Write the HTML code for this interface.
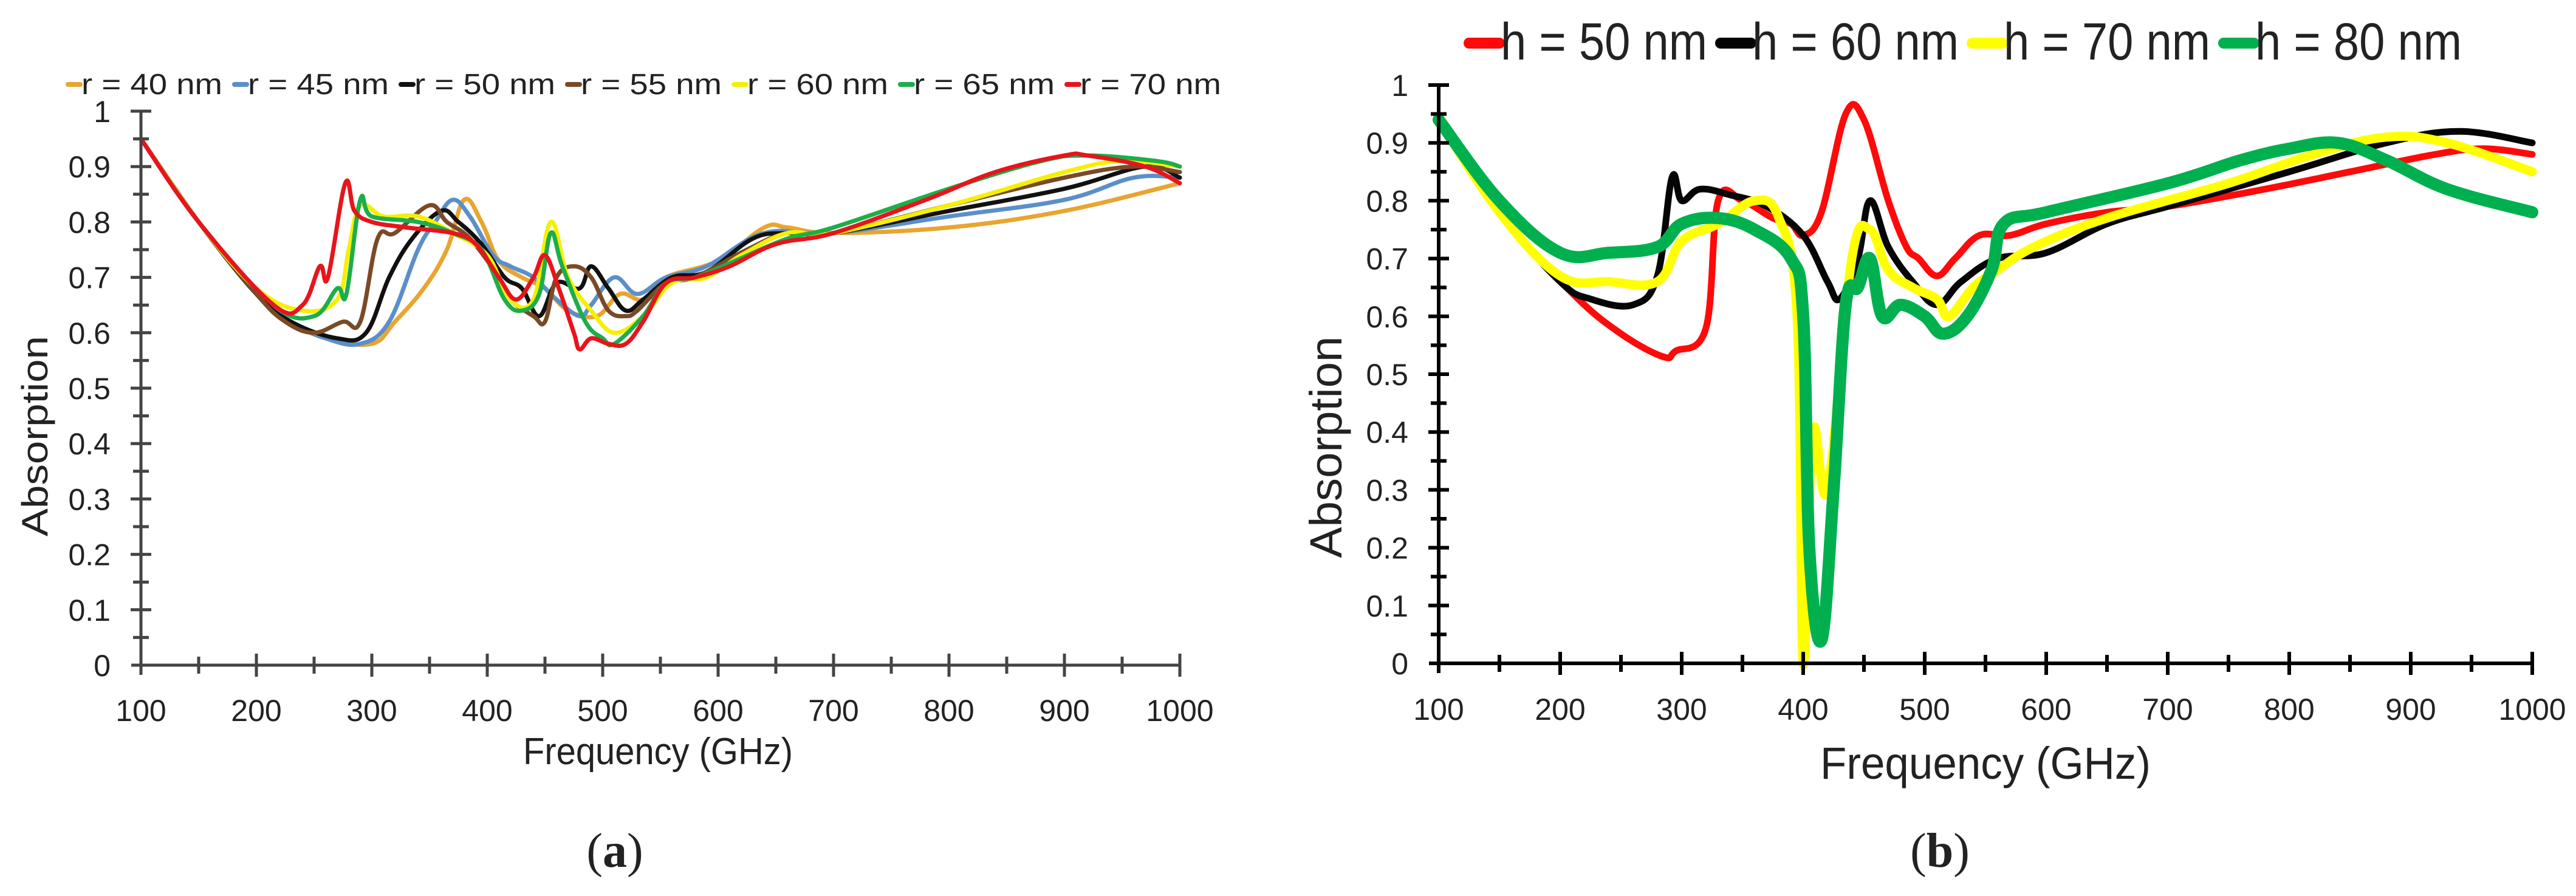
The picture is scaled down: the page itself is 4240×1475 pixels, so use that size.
<!DOCTYPE html>
<html><head><meta charset="utf-8"><style>
html,body{margin:0;padding:0;background:#fff;}
svg{display:block;}
text{font-family:"Liberation Sans Narrow","Liberation Sans",sans-serif;fill:#222;}
</style></head><body>
<svg id="fig" width="4240" height="1475" viewBox="0 0 4240 1475" xmlns="http://www.w3.org/2000/svg">
<rect width="4240" height="1475" fill="#fff"/>
<g id="pa"></g>
<g id="pb"></g>
<text x="1012" y="1427" text-anchor="middle" font-size="80" style="font-family:'Liberation Serif',serif">(<tspan font-weight="bold">a</tspan>)</text>
<text x="3193" y="1427" text-anchor="middle" font-size="80" style="font-family:'Liberation Serif',serif">(<tspan font-weight="bold">b</tspan>)</text>
</svg>
<script>
// ---- Panel A data ----
const aNames = ["r = 40 nm","r = 45 nm","r = 50 nm","r = 55 nm","r = 60 nm","r = 65 nm","r = 70 nm"];
const aColors = ["#e8a530","#5b8fc9","#111111","#7a4a26","#f5f000","#1cae4a","#e8141c"];
const a40 = [[100,0.95],[150,0.80],[200,0.67],[230,0.62],[260,0.59],[300,0.58],[320,0.62],[345,0.68],[365,0.75],[380,0.84],[395,0.80],[410,0.73],[430,0.70],[450,0.68],[470,0.64],[495,0.63],[515,0.67],[535,0.66],[555,0.70],[600,0.73],[640,0.79],[660,0.79],[700,0.78],[800,0.79],[900,0.82],[1000,0.87]];
const a45 = [[100,0.95],[150,0.80],[200,0.67],[230,0.62],[260,0.59],[290,0.58],[315,0.62],[340,0.75],[355,0.80],[370,0.84],[385,0.81],[405,0.74],[420,0.72],[440,0.70],[460,0.66],[480,0.63],[490,0.65],[510,0.70],[530,0.67],[555,0.70],[590,0.72],[640,0.78],[700,0.78],[800,0.81],[900,0.84],[960,0.88],[1000,0.88]];
const a50 = [[100,0.95],[150,0.80],[200,0.67],[230,0.62],[270,0.59],[295,0.60],[315,0.70],[335,0.77],[360,0.82],[375,0.80],[395,0.76],[415,0.70],[430,0.68],[445,0.63],[460,0.69],[480,0.68],[490,0.72],[505,0.68],[520,0.64],[535,0.66],[560,0.70],[590,0.71],[630,0.77],[660,0.78],[700,0.78],[800,0.82],[900,0.86],[970,0.90],[1000,0.88]];
const a55 = [[100,0.95],[150,0.80],[200,0.67],[225,0.62],[250,0.60],[275,0.62],[290,0.62],[305,0.77],[320,0.78],[350,0.83],[365,0.80],[385,0.77],[410,0.70],[420,0.66],[440,0.63],[450,0.62],[460,0.70],[475,0.72],[490,0.70],[505,0.64],[520,0.63],[530,0.64],[555,0.69],[580,0.70],[625,0.75],[660,0.78],[700,0.78],[800,0.83],[900,0.88],[960,0.90],[1000,0.89]];
const a60 = [[100,0.95],[150,0.80],[200,0.68],[240,0.64],[270,0.66],[280,0.75],[290,0.83],[310,0.81],[340,0.81],[370,0.78],[400,0.74],[420,0.66],[440,0.66],[455,0.80],[470,0.70],[490,0.64],[510,0.60],[535,0.63],[560,0.69],[590,0.70],[620,0.74],[660,0.78],[700,0.78],[800,0.83],[900,0.89],[950,0.91],[1000,0.90]];
const a65 = [[100,0.95],[150,0.80],[215,0.65],[250,0.63],[270,0.68],[278,0.67],[290,0.84],[300,0.81],[340,0.80],[370,0.78],[395,0.75],[415,0.66],[430,0.64],[445,0.67],[455,0.78],[465,0.72],[485,0.62],[500,0.59],[510,0.58],[535,0.63],[555,0.69],[580,0.70],[615,0.73],[660,0.77],[700,0.79],[800,0.86],[880,0.91],[920,0.92],[980,0.91],[1000,0.90]];
const a70 = [[100,0.95],[150,0.80],[215,0.65],[240,0.65],[255,0.72],[262,0.70],[277,0.87],[285,0.82],[300,0.80],[330,0.79],[370,0.78],[390,0.76],[410,0.70],[425,0.66],[440,0.70],[450,0.74],[462,0.68],[475,0.60],[480,0.57],[490,0.59],[505,0.58],[520,0.58],[535,0.62],[555,0.69],[580,0.70],[610,0.72],[650,0.76],[700,0.78],[780,0.84],[840,0.89],[900,0.92],[920,0.92],[970,0.90],[1000,0.87]];
const aSeries = [a40,a45,a50,a55,a60,a65,a70];
const xTicks = ["100","200","300","400","500","600","700","800","900","1000"];
const yTicks = ["0","0.1","0.2","0.3","0.4","0.5","0.6","0.7","0.8","0.9","1"];
// ---- Panel B data ----
const bNames = ["h = 50 nm","h = 60 nm","h = 70 nm","h = 80 nm"];
const bColors = ["#ff0a0a","#050505","#ffff00","#00b04f"];
const b50 = [[100,0.94],[150,0.78],[210,0.64],[250,0.57],[285,0.53],[295,0.54],[320,0.58],[330,0.80],[350,0.80],[375,0.77],[390,0.76],[400,0.74],[415,0.78],[435,0.95],[450,0.94],[470,0.80],[485,0.72],[495,0.70],[510,0.67],[525,0.70],[545,0.74],[570,0.74],[600,0.76],[650,0.78],[700,0.79],[780,0.82],[850,0.85],[920,0.88],[960,0.89],[1000,0.88]];
const b60 = [[100,0.94],[150,0.78],[200,0.66],[225,0.63],[260,0.62],[280,0.67],[292,0.84],[300,0.80],[315,0.82],[340,0.81],[370,0.79],[400,0.74],[420,0.66],[430,0.63],[445,0.70],[455,0.80],[470,0.72],[490,0.66],[510,0.62],[530,0.66],[560,0.70],[600,0.71],[650,0.76],[700,0.79],[800,0.85],[880,0.90],[940,0.92],[1000,0.90]];
const b70 = [[100,0.94],[150,0.78],[200,0.67],[240,0.66],[280,0.66],[300,0.73],[330,0.76],[360,0.80],[380,0.77],[395,0.60],[400,0.0],[408,0.40],[420,0.30],[440,0.70],[455,0.75],[470,0.68],[490,0.65],[510,0.63],[520,0.60],[540,0.65],[560,0.68],[590,0.72],[650,0.77],[750,0.83],[820,0.88],[880,0.91],[930,0.90],[1000,0.85]];
const b80 = [[100,0.94],[150,0.80],[200,0.71],[240,0.71],[280,0.72],[300,0.76],[330,0.77],[360,0.75],[390,0.70],[400,0.60],[405,0.20],[415,0.04],[425,0.30],[435,0.62],[445,0.65],[455,0.70],[465,0.60],[480,0.62],[500,0.60],[515,0.57],[535,0.60],[555,0.68],[565,0.76],[600,0.78],[700,0.83],[760,0.87],[800,0.89],[840,0.90],[880,0.87],[930,0.82],[1000,0.78]];
const bSeries = [b50,b60,b70,b80];
const bWidths = [11,11,15,20];

const NS="http://www.w3.org/2000/svg";
function mk(parent,tag,attrs){const e=document.createElementNS(NS,tag);for(const k in attrs)e.setAttribute(k,attrs[k]);parent.appendChild(e);return e;}
function smoothPath(pts){
  let d="M"+pts[0][0].toFixed(1)+","+pts[0][1].toFixed(1);
  for(let i=0;i<pts.length-1;i++){
    const p0=pts[Math.max(0,i-1)],p1=pts[i],p2=pts[i+1],p3=pts[Math.min(pts.length-1,i+2)];
    const t=0.18;
    const c1=[p1[0]+(p2[0]-p0[0])*t,p1[1]+(p2[1]-p0[1])*t];
    const c2=[p2[0]-(p3[0]-p1[0])*t,p2[1]-(p3[1]-p1[1])*t];
    d+=" C"+c1[0].toFixed(1)+","+c1[1].toFixed(1)+" "+c2[0].toFixed(1)+","+c2[1].toFixed(1)+" "+p2[0].toFixed(1)+","+p2[1].toFixed(1);
  }
  return d;
}

function panel(g,cfg){
  const sx=f=>cfg.x0+(f-100)/900*(cfg.x1-cfg.x0);
  const sy=v=>cfg.y0-v*(cfg.y0-cfg.y1);
  cfg.series.forEach((s,i)=>{
    const pts=s.map(p=>[sx(p[0]),sy(p[1])]);
    const p=mk(g,"path",{d:smoothPath(pts),fill:"none",stroke:cfg.colors[i],"stroke-width":cfg.widths[i],"stroke-linejoin":"round","stroke-linecap":"round"});
    
    
  });
  const ax=mk(g,"line",{x1:cfg.x0,y1:cfg.y1,x2:cfg.x0,y2:cfg.y0+16,stroke:cfg.axc,"stroke-width":cfg.aw});
  
  
  const xa=mk(g,"line",{x1:cfg.x0-16,y1:cfg.y0,x2:cfg.x1,y2:cfg.y0,stroke:cfg.axc,"stroke-width":cfg.aw});
  
  
  for(let k=1;k<=20;k++){
    const y=cfg.y0-k/20*(cfg.y0-cfg.y1); const L=(k%2==0)?17:13;
    mk(g,"line",{x1:cfg.x0-L,y1:y,x2:cfg.x0+L,y2:y,stroke:cfg.axc,"stroke-width":cfg.aw});
  }
  for(let k=1;k<=18;k++){
    const x=cfg.x0+k/18*(cfg.x1-cfg.x0); const L=(k%2==0)?19:14;
    mk(g,"line",{x1:x,y1:cfg.y0-L,x2:x,y2:cfg.y0+L,stroke:cfg.axc,"stroke-width":cfg.aw});
  }
  yTicks.forEach((t,k)=>{
    const e=mk(g,"text",{x:cfg.x0-50,y:sy(k/10)+18,"text-anchor":"end","font-size":50});
    e.textContent=t;
    
    
  });
  xTicks.forEach((t,k)=>{
    const e=mk(g,"text",{x:sx(100+k*100),y:cfg.tickY,"text-anchor":"middle","font-size":50});
    e.textContent=t;
    
    
  });
  const xt=mk(g,"text",{x:cfg.xtX,y:cfg.xtY,"text-anchor":"middle","font-size":cfg.xtF,textLength:cfg.xtL,lengthAdjust:"spacingAndGlyphs"});
  xt.textContent="Frequency (GHz)";
  
  
  const yt=mk(g,"text",{x:0,y:0,"text-anchor":"middle","font-size":cfg.ytF,textLength:cfg.ytL,lengthAdjust:"spacingAndGlyphs",transform:"translate("+cfg.ytX+","+cfg.ytY+") rotate(-90)"});
  yt.textContent="Absorption";
  
  
  cfg.names.forEach((n,i)=>{
    const lx=cfg.lx0+i*cfg.lstep;
    const lg=mk(g,"g",{});
    
    
    mk(lg,"line",{x1:lx,y1:cfg.ly-cfg.lmOff,x2:lx+cfg.lmW,y2:cfg.ly-cfg.lmOff,stroke:cfg.colors[i],"stroke-width":cfg.lmT,"stroke-linecap":"round"});
    const t=mk(lg,"text",{x:lx+cfg.lmW+2,y:cfg.ly,"font-size":cfg.lF,textLength:cfg.lTL,lengthAdjust:"spacingAndGlyphs"});
    t.textContent=n;
  });
}
panel(document.getElementById("pa"),{x0:232,x1:1942,y0:1095,y1:183,series:aSeries,colors:aColors,names:aNames,widths:[7,7,7,7,7,7,7],
  axc:"#444",aw:5,tickY:1187,xtX:1083,xtY:1258,xtF:62,xtL:444,ytX:78,ytY:718,ytF:60,ytL:330,
  lx0:112,lstep:274,ly:155,lmW:20,lmT:8,lmOff:16,lF:48,lTL:232});
panel(document.getElementById("pb"),{x0:2368,x1:4168,y0:1092,y1:140,series:bSeries,colors:bColors,names:bNames,widths:bWidths,
  axc:"#000",aw:6,tickY:1185,xtX:3268,xtY:1282,xtF:74,xtL:544,ytX:2208,ytY:736,ytF:74,ytL:365,
  lx0:2418,lstep:414,ly:98,lmW:50,lmT:18,lmOff:27,lF:86,lTL:340});
</script>
</body></html>
